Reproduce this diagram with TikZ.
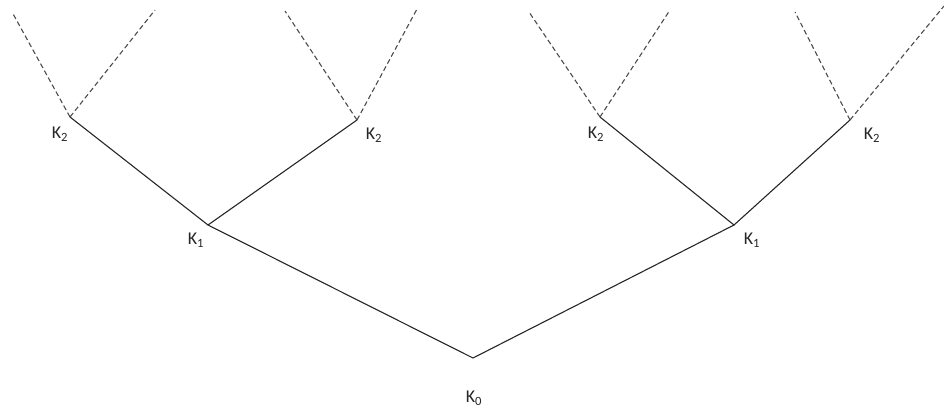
\documentclass[tikz,border=0pt]{standalone}
\usepackage{fontspec}
\setmainfont{Carlito}
\begin{document}
\begin{tikzpicture}[x=1pt,y=-1pt,
  edge/.style={draw=black!85,line width=1.1pt},
  dash edge/.style={draw=black!70,line width=1.1pt,dash pattern=on 5pt off 3pt},
  lbl/.style={inner sep=0pt,font=\fontsize{18}{20}\selectfont,text=black!85}]
\useasboundingbox (0,0) rectangle (944,416);
% points
\coordinate (k0) at (473,358);
\coordinate (k1l) at (208,225);
\coordinate (k1r) at (734,225);
\coordinate (k2a) at (70,117);
\coordinate (k2b) at (357,120);
\coordinate (k2c) at (600,117);
\coordinate (k2d) at (850,120);
% dashed ends
\coordinate (ea1) at (12,12);
\coordinate (ea2) at (155,10);
\coordinate (eb1) at (285,11);
\coordinate (eb2) at (417,9);
\coordinate (ec1) at (529,12);
\coordinate (ec2) at (670,10);
\coordinate (ed1) at (795,12);
\coordinate (ed2) at (944,6);
% solid edges
\draw[edge] (k1l) -- (k0) -- (k1r);
\draw[edge] (k2a) -- (k1l) -- (k2b);
\draw[edge] (k2c) -- (k1r) -- (k2d);
% dashed edges
\draw[dash edge] (k2a) -- (ea1);
\draw[dash edge] (k2a) -- (ea2);
\draw[dash edge] (k2b) -- (eb1);
\draw[dash edge] (k2b) -- (eb2);
\draw[dash edge] (k2c) -- (ec1);
\draw[dash edge] (k2c) -- (ec2);
\draw[dash edge] (k2d) -- (ed1);
\draw[dash edge] (k2d) -- (ed2);
% labels
\node[lbl] (l0) at (474,398) {K\textsubscript{0}};
\node[lbl] (l1l) at (196,240) {K\textsubscript{1}};
\node[lbl] (l1r) at (752,240) {K\textsubscript{1}};
\node[lbl] (l2a) at (60,134) {K\textsubscript{2}};
\node[lbl] (l2b) at (374,135) {K\textsubscript{2}};
\node[lbl] (l2c) at (596,134) {K\textsubscript{2}};
\node[lbl] (l2d) at (872,135) {K\textsubscript{2}};
\end{tikzpicture}
\end{document}
